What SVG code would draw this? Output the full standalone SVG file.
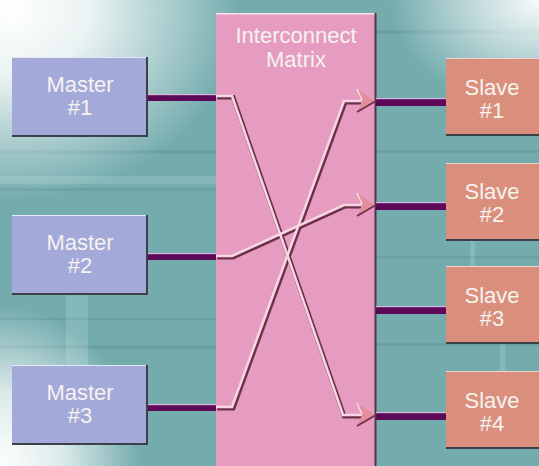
<svg xmlns="http://www.w3.org/2000/svg" width="539" height="466" viewBox="0 0 539 466">
<defs>
<radialGradient id="gTL" cx="0" cy="0" r="1" gradientUnits="userSpaceOnUse" gradientTransform="translate(10 10) scale(230 190)">
<stop offset="0" stop-color="#ffffff" stop-opacity="1"/>
<stop offset="0.35" stop-color="#ffffff" stop-opacity="0.85"/>
<stop offset="1" stop-color="#ffffff" stop-opacity="0"/>
</radialGradient>
<radialGradient id="gBL" cx="0" cy="0" r="1" gradientUnits="userSpaceOnUse" gradientTransform="translate(0 466) scale(140 160)">
<stop offset="0" stop-color="#ffffff" stop-opacity="1"/>
<stop offset="0.45" stop-color="#ffffff" stop-opacity="0.75"/>
<stop offset="1" stop-color="#ffffff" stop-opacity="0"/>
</radialGradient>
<radialGradient id="gTR" cx="0" cy="0" r="1" gradientUnits="userSpaceOnUse" gradientTransform="translate(539 0) scale(150 110)">
<stop offset="0" stop-color="#ffffff" stop-opacity="0.95"/>
<stop offset="0.5" stop-color="#ffffff" stop-opacity="0.5"/>
<stop offset="1" stop-color="#ffffff" stop-opacity="0"/>
</radialGradient>
<style>
.box text{font-family:"Liberation Sans",Arial,sans-serif;font-size:22px;fill:#f6f2f0;text-anchor:middle}
.master rect.b{fill:#a3a9d8}
.slave rect.b{fill:#d98f7c}
.sh{fill:#3c4048}
.hl{fill:#e6e8f4}
.bar{fill:#5c0a58}
.barhl{fill:#d7b8dc}
.wire-d{fill:none;stroke:#6e3048;stroke-width:4.4;stroke-linejoin:miter}
.wire-l{fill:none;stroke:#f7d6e2;stroke-width:2.6;stroke-linejoin:miter}
.ah{fill:#e38e9e}
.ahd{fill:none;stroke:#6e3048;stroke-width:1.8}
.ahl{fill:none;stroke:#fbe6ee;stroke-width:1.2}
.streak{fill:#5e9598;opacity:0.45}
.streakl{fill:#b8dcdc;opacity:0.25}
</style>
</defs>

<!-- background -->
<rect x="0" y="0" width="539" height="466" fill="#74acae"/>
<rect class="streak" x="0" y="150" width="216" height="4"/>
<rect class="streak" x="0" y="188" width="216" height="3"/>
<rect class="streakl" x="0" y="176" width="216" height="8"/>
<rect class="streak" x="0" y="345" width="216" height="4"/>
<rect class="streak" x="0" y="318" width="216" height="2"/>
<rect class="streakl" x="66" y="295" width="22" height="70"/>
<rect class="streak" x="376" y="150" width="163" height="3"/>
<rect class="streak" x="376" y="256" width="163" height="3"/>
<rect class="streak" x="376" y="343" width="163" height="3"/>
<rect class="streak" x="376" y="30" width="163" height="4"/>
<rect class="streakl" x="470" y="240" width="5" height="26"/>
<rect class="streakl" x="500" y="344" width="5" height="27"/>
<rect x="0" y="0" width="539" height="466" fill="url(#gTL)"/>
<rect x="0" y="0" width="539" height="466" fill="url(#gBL)"/>
<rect x="0" y="0" width="539" height="466" fill="url(#gTR)"/>

<!-- interconnect matrix -->
<g id="matrix" class="box">
<rect x="216" y="13" width="160" height="453" fill="#e59cc0"/>
<rect x="216" y="13" width="160" height="1.5" fill="#f8e2ec"/>
<rect x="374.5" y="13" width="2" height="453" fill="#4a3a44"/>
<text x="296" y="43">Interconnect</text>
<text x="296" y="67">Matrix</text>
</g>

<!-- masters -->
<g id="master1" class="box master">
<rect class="sh" x="12" y="57" width="136" height="80"/>
<rect class="b" x="12" y="57" width="134" height="78"/>
<rect class="hl" x="12" y="57" width="134" height="1"/>
<text x="80" y="92">Master</text>
<text x="80" y="115">#1</text>
</g>
<g id="master2" class="box master">
<rect class="sh" x="12" y="215" width="136" height="80"/>
<rect class="b" x="12" y="215" width="134" height="78"/>
<rect class="hl" x="12" y="215" width="134" height="1"/>
<text x="80" y="250">Master</text>
<text x="80" y="273">#2</text>
</g>
<g id="master3" class="box master">
<rect class="sh" x="12" y="365" width="136" height="80"/>
<rect class="b" x="12" y="365" width="134" height="78"/>
<rect class="hl" x="12" y="365" width="134" height="1"/>
<text x="80" y="400">Master</text>
<text x="80" y="423">#3</text>
</g>

<!-- slaves -->
<g id="slave1" class="box slave">
<rect class="sh" x="446" y="58" width="93" height="78"/>
<rect class="b" x="446" y="58" width="93" height="76"/>
<rect x="446" y="58" width="93" height="1" fill="#f2d2c8"/>
<text x="492" y="95">Slave</text>
<text x="492" y="118">#1</text>
</g>
<g id="slave2" class="box slave">
<rect class="sh" x="446" y="163" width="93" height="78"/>
<rect class="b" x="446" y="163" width="93" height="76"/>
<rect x="446" y="163" width="93" height="1" fill="#f2d2c8"/>
<text x="492" y="199">Slave</text>
<text x="492" y="222">#2</text>
</g>
<g id="slave3" class="box slave">
<rect class="sh" x="446" y="266" width="93" height="78"/>
<rect class="b" x="446" y="266" width="93" height="76"/>
<rect x="446" y="266" width="93" height="1" fill="#f2d2c8"/>
<text x="492" y="303">Slave</text>
<text x="492" y="326">#3</text>
</g>
<g id="slave4" class="box slave">
<rect class="sh" x="446" y="371" width="93" height="78"/>
<rect class="b" x="446" y="371" width="93" height="76"/>
<rect x="446" y="371" width="93" height="1" fill="#f2d2c8"/>
<text x="492" y="408">Slave</text>
<text x="492" y="431">#4</text>
</g>

<!-- connectors -->
<g id="connectors">
<!-- bus bars -->
<rect class="bar" x="148" y="94" width="68" height="7"/><rect class="barhl" x="148" y="94" width="68" height="1.2"/>
<rect class="bar" x="148" y="253" width="68" height="7"/><rect class="barhl" x="148" y="253" width="68" height="1.2"/>
<rect class="bar" x="148" y="404" width="68" height="7"/><rect class="barhl" x="148" y="404" width="68" height="1.2"/>
<rect class="bar" x="376" y="98" width="70" height="8"/><rect class="barhl" x="376" y="98" width="70" height="1.2"/>
<rect class="bar" x="376" y="202" width="70" height="8"/><rect class="barhl" x="376" y="202" width="70" height="1.2"/>
<rect class="bar" x="376" y="306" width="70" height="8"/><rect class="barhl" x="376" y="306" width="70" height="1.2"/>
<rect class="bar" x="376" y="412" width="70" height="8"/><rect class="barhl" x="376" y="412" width="70" height="1.2"/>

<!-- wires: dark edge then light core -->
<path class="wire-d" transform="translate(1.2 1.2)" d="M216 96 H232 L343 415 H362"/>
<path class="wire-d" transform="translate(1.2 1.2)" d="M216 256 H232 L344 205 H362"/>
<path class="wire-d" transform="translate(1.2 1.2)" d="M216 407 H232 L344 101 H362"/>
<path class="wire-l" d="M216 96 H232 L343 415 H362"/>
<path class="wire-l" d="M216 256 H232 L344 205 H362"/>
<path class="wire-l" d="M216 407 H232 L344 101 H362"/>

<!-- arrowheads -->
<path class="ah" d="M375 101 L357 89 L362 101 L357 112 Z"/>
<path class="ahd" d="M357 112 L375 101.5"/>
<path class="ahl" d="M357 89 L362 100"/>
<path class="ah" d="M375 205 L357 193 L362 205 L357 216 Z"/>
<path class="ahd" d="M357 216 L375 205.5"/>
<path class="ahl" d="M357 193 L362 204"/>
<path class="ah" d="M375 415 L357 403 L362 415 L357 426 Z"/>
<path class="ahd" d="M357 426 L375 415.5"/>
<path class="ahl" d="M357 403 L362 414"/>
</g>
</svg>
